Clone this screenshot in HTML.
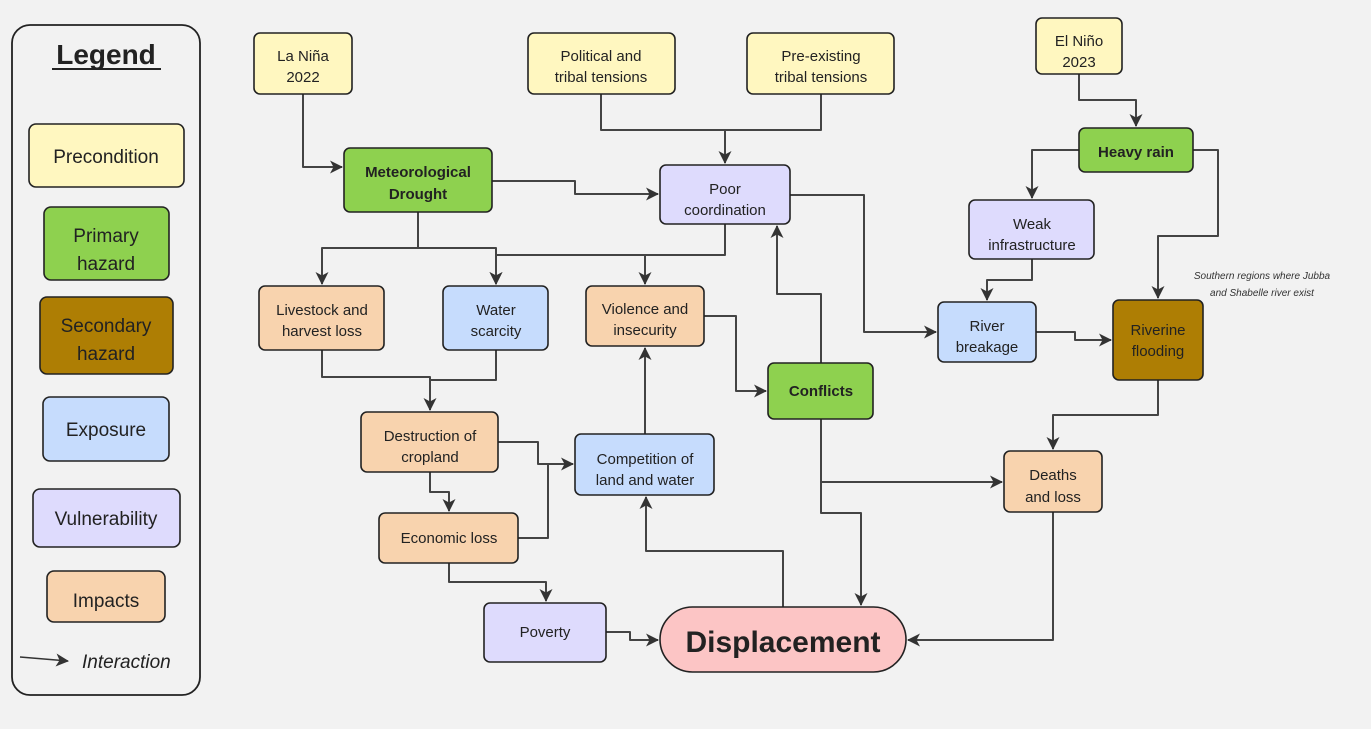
<!DOCTYPE html>
<html><head><meta charset="utf-8"><style>
html,body{margin:0;padding:0;background:#f2f2f2;}
svg{display:block;font-family:"Liberation Sans",sans-serif;}
</style></head><body>
<svg width="1371" height="729" viewBox="0 0 1371 729" xmlns="http://www.w3.org/2000/svg">
<defs>
<marker id="a" markerWidth="13" markerHeight="13" refX="12" refY="6.5" orient="auto" markerUnits="userSpaceOnUse">
<path d="M0,0 L13,6.5 L0,13 L3.5,6.5 z" fill="#333"/>
</marker>
</defs>
<rect width="1371" height="729" fill="#f2f2f2"/>
<!-- Legend -->
<rect x="12" y="25" width="188" height="670" rx="18" fill="#f2f2f2" stroke="#222" stroke-width="1.8"/>
<text x="106" y="64" font-size="28" font-weight="bold" text-anchor="middle" fill="#222">Legend</text>
<line x1="52" y1="69" x2="161" y2="69" stroke="#222" stroke-width="2"/>
<g stroke="#222" stroke-width="1.6" font-size="19" text-anchor="middle" fill="#222">
<rect x="29" y="124" width="155" height="63" rx="7" fill="#fff7c0"/>
<rect x="44" y="207" width="125" height="73" rx="7" fill="#8ed14f"/>
<rect x="40" y="297" width="133" height="77" rx="7" fill="#ae7e04"/>
<rect x="43" y="397" width="126" height="64" rx="7" fill="#c6dcfd"/>
<rect x="33" y="489" width="147" height="58" rx="7" fill="#dedbfd"/>
<rect x="47" y="571" width="118" height="51" rx="7" fill="#f8d3ae"/>
</g>
<g font-size="19" text-anchor="middle" fill="#222">
<text x="106" y="163">Precondition</text>
<text x="106" y="242">Primary</text><text x="106" y="270">hazard</text>
<text x="106" y="332">Secondary</text><text x="106" y="360">hazard</text>
<text x="106" y="436">Exposure</text>
<text x="106" y="525">Vulnerability</text>
<text x="106" y="607">Impacts</text>
</g>
<line x1="20" y1="657" x2="68" y2="661" stroke="#333" stroke-width="1.6" marker-end="url(#a)"/>
<text x="82" y="668" font-size="19" font-style="italic" fill="#222">Interaction</text>

<!-- Edges -->
<g fill="none" stroke="#444" stroke-width="2" stroke-linejoin="round">
<polyline points="303,94 303,167 342,167" marker-end="url(#a)"/>
<polyline points="601,94 601,130 725,130 725,163" marker-end="url(#a)"/>
<polyline points="821,94 821,130 725,130"/>
<polyline points="492,181 575,181 575,194 658,194" marker-end="url(#a)"/>
<polyline points="418,212 418,248 322,248 322,284" marker-end="url(#a)"/>
<polyline points="418,248 496,248 496,284" marker-end="url(#a)"/>
<polyline points="725,224 725,255 496,255 496,284" marker-end="url(#a)"/>
<polyline points="645,255 645,284" marker-end="url(#a)"/>
<polyline points="790,195 864,195 864,332 936,332" marker-end="url(#a)"/>
<polyline points="322,350 322,377 430,377 430,410" marker-end="url(#a)"/>
<polyline points="496,350 496,380 430,380"/>
<polyline points="498,442 538,442 538,464 573,464" marker-end="url(#a)"/>
<polyline points="430,472 430,492 449,492 449,511" marker-end="url(#a)"/>
<polyline points="518,538 548,538 548,464"/>
<polyline points="645,434 645,348" marker-end="url(#a)"/>
<polyline points="704,316 736,316 736,391 766,391" marker-end="url(#a)"/>
<polyline points="821,363 821,294 777,294 777,226" marker-end="url(#a)"/>
<polyline points="821,419 821,482 1002,482" marker-end="url(#a)"/>
<polyline points="821,482 821,513 861,513 861,605" marker-end="url(#a)"/>
<polyline points="449,563 449,582 546,582 546,601" marker-end="url(#a)"/>
<polyline points="606,632 630,632 630,640 658,640" marker-end="url(#a)"/>
<polyline points="783,607 783,551 646,551 646,497" marker-end="url(#a)"/>
<polyline points="1053,512 1053,640 908,640" marker-end="url(#a)"/>
<polyline points="1079,74 1079,100 1136,100 1136,126" marker-end="url(#a)"/>
<polyline points="1079,150 1032,150 1032,198" marker-end="url(#a)"/>
<polyline points="1193,150 1218,150 1218,236 1158,236 1158,298" marker-end="url(#a)"/>
<polyline points="1032,259 1032,280 987,280 987,300" marker-end="url(#a)"/>
<polyline points="1036,332 1075,332 1075,340 1111,340" marker-end="url(#a)"/>
<polyline points="1158,380 1158,415 1053,415 1053,449" marker-end="url(#a)"/>
</g>

<!-- Nodes -->
<g stroke="#222" stroke-width="1.6">
<rect x="254" y="33" width="98" height="61" rx="6" fill="#fff7c0"/>
<rect x="528" y="33" width="147" height="61" rx="6" fill="#fff7c0"/>
<rect x="747" y="33" width="147" height="61" rx="6" fill="#fff7c0"/>
<rect x="1036" y="18" width="86" height="56" rx="6" fill="#fff7c0"/>
<rect x="344" y="148" width="148" height="64" rx="6" fill="#8ed14f"/>
<rect x="660" y="165" width="130" height="59" rx="6" fill="#dedbfd"/>
<rect x="1079" y="128" width="114" height="44" rx="6" fill="#8ed14f"/>
<rect x="969" y="200" width="125" height="59" rx="6" fill="#dedbfd"/>
<rect x="259" y="286" width="125" height="64" rx="6" fill="#f8d3ae"/>
<rect x="443" y="286" width="105" height="64" rx="6" fill="#c6dcfd"/>
<rect x="586" y="286" width="118" height="60" rx="6" fill="#f8d3ae"/>
<rect x="938" y="302" width="98" height="60" rx="6" fill="#c6dcfd"/>
<rect x="1113" y="300" width="90" height="80" rx="6" fill="#ae7e04"/>
<rect x="768" y="363" width="105" height="56" rx="6" fill="#8ed14f"/>
<rect x="361" y="412" width="137" height="60" rx="6" fill="#f8d3ae"/>
<rect x="575" y="434" width="139" height="61" rx="6" fill="#c6dcfd"/>
<rect x="1004" y="451" width="98" height="61" rx="6" fill="#f8d3ae"/>
<rect x="379" y="513" width="139" height="50" rx="6" fill="#f8d3ae"/>
<rect x="484" y="603" width="122" height="59" rx="6" fill="#dedbfd"/>
<rect x="660" y="607" width="246" height="65" rx="32.5" fill="#fcc5c5"/>
</g>

<g font-size="15" text-anchor="middle" fill="#222">
<text x="303" y="61">La Niña</text><text x="303" y="82">2022</text>
<text x="601" y="61">Political and</text><text x="601" y="82">tribal tensions</text>
<text x="821" y="61">Pre-existing</text><text x="821" y="82">tribal tensions</text>
<text x="1079" y="46">El Niño</text><text x="1079" y="67">2023</text>
<text x="418" y="177" font-weight="bold">Meteorological</text><text x="418" y="199" font-weight="bold">Drought</text>
<text x="725" y="194">Poor</text><text x="725" y="215">coordination</text>
<text x="1136" y="157" font-weight="bold">Heavy rain</text>
<text x="1032" y="229">Weak</text><text x="1032" y="250">infrastructure</text>
<text x="322" y="315">Livestock and</text><text x="322" y="336">harvest loss</text>
<text x="496" y="315">Water</text><text x="496" y="336">scarcity</text>
<text x="645" y="314">Violence and</text><text x="645" y="335">insecurity</text>
<text x="987" y="331">River</text><text x="987" y="352">breakage</text>
<text x="1158" y="335">Riverine</text><text x="1158" y="356">flooding</text>
<text x="821" y="396" font-weight="bold">Conflicts</text>
<text x="430" y="441">Destruction of</text><text x="430" y="462">cropland</text>
<text x="645" y="464">Competition of</text><text x="645" y="485">land and water</text>
<text x="1053" y="480">Deaths</text><text x="1053" y="502">and loss</text>
<text x="449" y="543">Economic loss</text>
<text x="545" y="637">Poverty</text>
<text x="783" y="652" font-size="30" font-weight="bold">Displacement</text>
<text x="1262" y="279" font-size="10" font-style="italic" fill="#333">Southern regions where Jubba</text>
<text x="1262" y="296" font-size="10" font-style="italic" fill="#333">and Shabelle river exist</text>
</g>
</svg>
</body></html>
